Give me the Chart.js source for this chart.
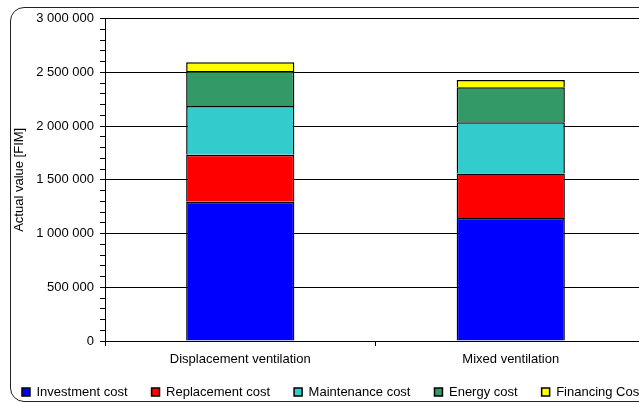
<!DOCTYPE html>
<html>
<head>
<meta charset="utf-8">
<script src="https://cdn.jsdelivr.net/npm/chart.js@4.4.1/dist/chart.umd.min.js"></script>
<style>
  html, body { margin: 0; padding: 0; width: 639px; height: 403px; overflow: hidden; background: #fff; }
  #frame { position: absolute; left: 10px; top: 7px; width: 720px; height: 393px; border: 1px solid #222; border-radius: 14px; }
  #wrap { position: absolute; left: -2px; top: 0; width: 760px; height: 413px; }
</style>
</head>
<body>
<div id="frame"></div>
<div id="wrap"><canvas id="lccChart"></canvas></div>
<script>
// Life cycle cost per ventilation system
const categories = ['Displacement ventilation', 'Mixed ventilation'];
const investmentCost = [1295000, 1144000];
const replacementCost = [437000, 414000];
const maintenanceCost = [455000, 478000];
const energyCost = [325000, 325000];
const financingCost = [81000, 68000];
const yTicks = [0, 500000, 1000000, 1500000, 2000000, 2500000, 3000000];

function fmtSpace(v) {
  return String(v).replace(/\B(?=(\d{3})+(?!\d))/g, ' ');
}

function ds(label, data, color) {
  return {
    label: label,
    data: data,
    backgroundColor: color,
    borderColor: '#000',
    borderWidth: 1.5,
    barPercentage: 0.4,
    categoryPercentage: 1.0
  };
}

const font = { family: "'Liberation Sans', Arial, sans-serif", size: 13 };

// legend sits a bit closer to the axis labels than Chart.js puts it
const legendNudge = {
  id: 'legendNudge',
  afterLayout(chart) {
    if (chart.legend) { chart.legend.top -= 4.5; chart.legend.bottom -= 4.5; }
  }
};

new Chart(document.getElementById('lccChart').getContext('2d'), {
  type: 'bar',
  data: {
    labels: categories,
    datasets: [
      ds('Investment cost', investmentCost, '#0000ff'),
      ds('Replacement cost', replacementCost, '#ff0000'),
      ds('Maintenance cost', maintenanceCost, '#33cccc'),
      ds('Energy cost', energyCost, '#339966'),
      ds('Financing Cost', financingCost, '#ffff00')
    ]
  },
  plugins: [legendNudge],
  options: {
    responsive: true,
    maintainAspectRatio: false,
    animation: false,
    layout: { padding: { left: 0, top: 18.6, right: 0, bottom: 0 } },
    plugins: {
      tooltip: { enabled: false },
      legend: {
        position: 'bottom',
        align: 'start',
        labels: { boxWidth: 8, boxHeight: 8, padding: 24, color: '#000', font: font }
      }
    },
    scales: {
      x: {
        stacked: true,
        grid: { drawOnChartArea: false, drawTicks: true, tickLength: 5, color: '#000', offset: true },
        border: { color: '#000', width: 1 },
        ticks: { color: '#000', font: font, padding: 6 },
        afterFit: (s) => { s.height = 25; }
      },
      y: {
        stacked: true,
        min: 0,
        max: 3000000,
        title: { display: true, text: 'Actual value [FIM]', color: '#000', font: font, padding: { top: 14, bottom: 0 } },
        grid: {
          color: (c) => (c.tick && yTicks.includes(c.tick.value)) ? '#000' : 'rgba(0,0,0,0)',
          tickColor: '#000',
          tickLength: 5
        },
        border: { color: '#000', width: 1 },
        ticks: {
          stepSize: 100000,
          autoSkip: false,
          color: '#000',
          font: font,
          padding: 6,
          callback: (v) => yTicks.includes(v) ? fmtSpace(v) : ''
        },
        afterFit: (s) => { s.width = 107; }
      },
      // empty right-hand axis: keeps the plot edge just past the window while the legend keeps full width
      yRight: {
        position: 'right',
        grid: { display: false, drawTicks: false },
        border: { display: false },
        ticks: { display: false },
        afterFit: (s) => { s.width = 112; }
      }
    }
  }
});
</script>
</body>
</html>
